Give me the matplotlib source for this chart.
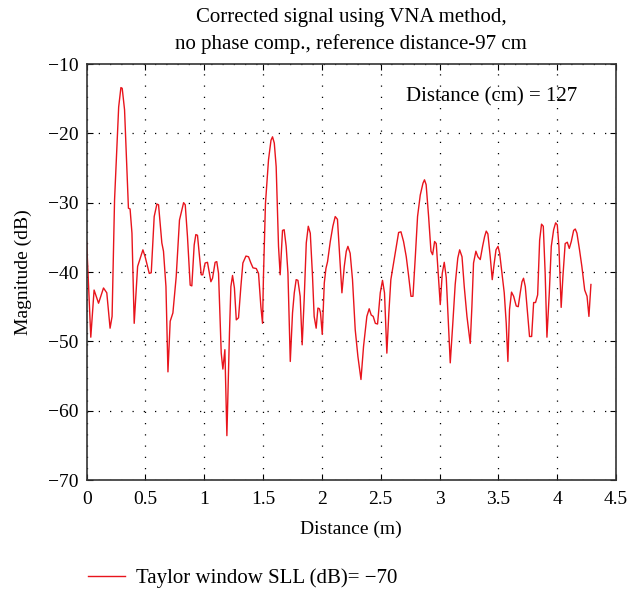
import matplotlib.pyplot as plt

plt.rcParams['font.family'] = ['Liberation Serif', 'DejaVu Serif']
plt.rcParams['font.size'] = 14

distance = [
    0.000, 0.035, 0.063, 0.101, 0.143, 0.171, 0.199, 0.216, 0.237, 0.272,
    0.291, 0.302, 0.322, 0.355, 0.369, 0.385, 0.404, 0.433, 0.478, 0.497,
    0.532, 0.549, 0.574, 0.597, 0.611, 0.639, 0.653, 0.674, 0.691, 0.710,
    0.733, 0.761, 0.789, 0.824, 0.838, 0.857, 0.880, 0.894, 0.914, 0.928,
    0.942, 0.974, 0.987, 1.007, 1.027, 1.056, 1.070, 1.092, 1.106, 1.121,
    1.144, 1.158, 1.175, 1.192, 1.214, 1.226, 1.240, 1.256, 1.272, 1.291,
    1.311, 1.328, 1.354, 1.376, 1.396, 1.414, 1.442, 1.461, 1.481, 1.495,
    1.503, 1.520, 1.546, 1.567, 1.580, 1.595, 1.611, 1.631, 1.645, 1.665,
    1.679, 1.696, 1.711, 1.731, 1.750, 1.765, 1.781, 1.796, 1.815, 1.832,
    1.849, 1.867, 1.884, 1.901, 1.920, 1.934, 1.951, 1.966, 1.979, 1.988,
    2.003, 2.020, 2.034, 2.048, 2.071, 2.093, 2.113, 2.132, 2.150, 2.170,
    2.190, 2.207, 2.221, 2.240, 2.260, 2.283, 2.306, 2.332, 2.354, 2.382,
    2.402, 2.419, 2.436, 2.454, 2.473, 2.496, 2.515, 2.532, 2.552, 2.569,
    2.586, 2.609, 2.632, 2.652, 2.672, 2.694, 2.717, 2.736, 2.757, 2.774,
    2.794, 2.813, 2.836, 2.859, 2.872, 2.886, 2.907, 2.927, 2.941, 2.958,
    2.972, 2.991, 3.006, 3.023, 3.040, 3.057, 3.074, 3.091, 3.112, 3.133,
    3.155, 3.171, 3.191, 3.210, 3.233, 3.261, 3.275, 3.289, 3.309, 3.326,
    3.346, 3.366, 3.383, 3.397, 3.411, 3.431, 3.448, 3.465, 3.480, 3.497,
    3.511, 3.531, 3.550, 3.567, 3.581, 3.595, 3.612, 3.630, 3.652, 3.669,
    3.686, 3.701, 3.714, 3.729, 3.748, 3.765, 3.783, 3.800, 3.816, 3.834,
    3.851, 3.867, 3.882, 3.898, 3.913, 3.933, 3.950, 3.970, 3.987, 4.001,
    4.015, 4.034, 4.049, 4.068, 4.086, 4.103, 4.120, 4.140, 4.154, 4.168,
    4.190, 4.210, 4.234, 4.254, 4.270, 4.287,
]
magnitude = [
    -35.7, -49.4, -42.6, -44.5, -42.3, -43.0, -48.1, -46.4, -29.6, -16.2,
    -13.4, -13.5, -16.6, -30.8, -30.9, -34.4, -47.4, -39.2, -36.8, -37.8,
    -40.2, -40.1, -32.0, -30.2, -30.3, -35.8, -37.0, -42.1, -54.4, -47.1,
    -45.9, -40.7, -32.5, -30.0, -30.3, -34.9, -41.9, -42.0, -36.1, -34.6,
    -34.7, -40.4, -40.4, -38.7, -38.6, -41.4, -40.9, -38.6, -38.5, -40.2,
    -51.7, -54.0, -51.2, -63.6, -48.8, -42.1, -40.5, -42.3, -46.9, -46.6,
    -42.1, -38.7, -37.7, -37.8, -38.7, -39.4, -39.5, -40.2, -45.0, -47.4,
    -40.6, -30.1, -23.8, -21.0, -20.5, -21.4, -24.8, -36.3, -40.4, -34.0,
    -33.9, -36.3, -40.1, -52.9, -45.9, -43.0, -41.1, -41.2, -43.5, -50.5,
    -44.0, -35.8, -33.4, -34.4, -40.6, -46.4, -48.1, -45.2, -45.3, -45.9,
    -49.0, -41.6, -39.5, -38.5, -35.6, -33.4, -32.0, -32.4, -37.3, -43.0,
    -39.2, -37.0, -36.3, -37.3, -41.1, -48.3, -52.2, -55.5, -50.7, -46.4,
    -45.3, -46.2, -46.4, -47.4, -47.5, -43.0, -41.2, -43.0, -51.7, -45.9,
    -41.1, -38.7, -36.3, -34.3, -34.2, -35.6, -37.8, -40.4, -43.5, -43.5,
    -37.8, -32.0, -28.9, -27.2, -26.7, -27.4, -32.0, -37.0, -37.5, -35.6,
    -35.9, -40.9, -44.7, -40.2, -38.6, -40.8, -47.0, -53.1, -47.6, -41.8,
    -38.0, -36.8, -37.8, -42.1, -46.4, -50.3, -45.0, -38.7, -37.0, -37.8,
    -38.2, -36.3, -34.9, -34.1, -34.5, -37.8, -41.1, -38.7, -36.8, -36.3,
    -37.3, -40.2, -43.0, -47.4, -52.9, -45.4, -42.9, -43.5, -44.9, -45.0,
    -43.0, -41.4, -40.9, -42.1, -45.9, -49.3, -49.3, -44.4, -44.4, -43.3,
    -35.4, -33.1, -33.4, -40.2, -49.4, -43.0, -36.3, -33.9, -32.9, -33.2,
    -36.3, -45.1, -40.6, -35.9, -35.7, -36.6, -35.6, -34.0, -33.8, -34.4,
    -36.8, -39.2, -42.6, -43.5, -46.4, -41.8,
]

xTicks = [0, 0.5, 1, 1.5, 2, 2.5, 3, 3.5, 4, 4.5]
xTickLabels = ['0', '0.5', '1', '1.5', '2', '2.5', '3', '3.5', '4', '4.5']
yTicks = [-70, -60, -50, -40, -30, -20, -10]

fig = plt.figure(figsize=(6.29, 5.9), dpi=100)
ax = fig.add_axes([0.1378, 0.1864, 0.8415, 0.7051])

ax.plot(distance, magnitude, color='#e8141c', linewidth=1.0,
        label='Taylor window SLL (dB)= \u221270')

ax.set_xlim(0, 4.5)
ax.set_ylim(-70, -10)
ax.set_xticks(xTicks)
ax.set_xticklabels(xTickLabels)
ax.set_yticks(yTicks)
ax.tick_params(axis='x', direction='in', top=True, length=4, pad=8)
ax.tick_params(axis='y', direction='in', right=True, length=4, pad=6)
ax.grid(True, color='black', linestyle=(0, (1, 8)), linewidth=0.9)
for s in ax.spines.values():
    s.set_linewidth(1.2)
    s.set_color('#333333')

# title placed by hand to get the wider line gap
fig.text(0.5586, 1 - 31 / 590,
         'Corrected signal using VNA method,\nno phase comp., reference distance-97 cm',
         ha='center', va='center', fontsize=15, linespacing=1.5, multialignment='center')
ax.set_xlabel('Distance (m)', labelpad=9)
ax.set_ylabel('Magnitude (dB)', labelpad=11)
ax.text(4.17, -14.8, 'Distance (cm) = 127', ha='right', va='center', fontsize=15)

fig.legend(loc='center left', bbox_to_anchor=(0.140, 1 - 578 / 590), frameon=False,
           borderpad=0, borderaxespad=0, handlelength=1.75, handletextpad=0.55,
           fontsize=15)

fig.savefig('out.png', dpi=100)
